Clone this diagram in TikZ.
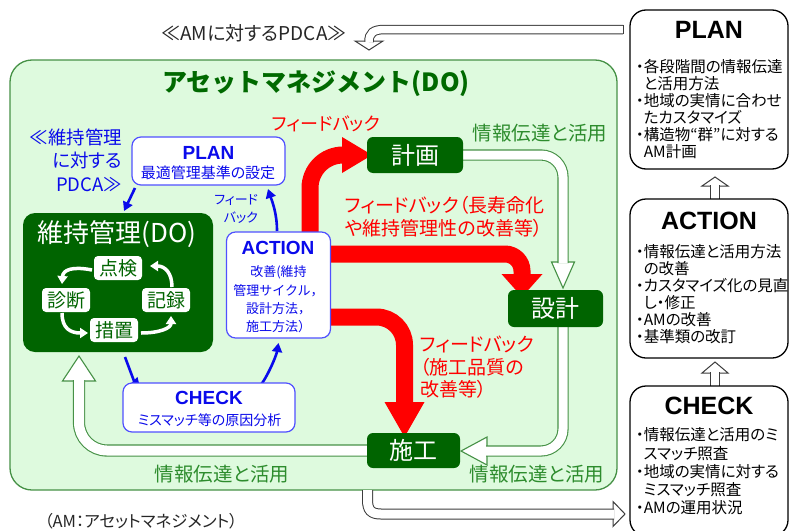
\documentclass[tikz,border=0pt]{standalone}
\usepackage{fontspec}
\setmainfont{Noto Sans CJK JP}[RawFeature=+palt]
\newfontfamily\jpm{Noto Sans CJK JP}
\newfontfamily\arl{Liberation Sans}
\usetikzlibrary{arrows.meta,calc}
\definecolor{dkg}{RGB}{0,100,0}
\definecolor{bgg}{RGB}{222,250,222}
\definecolor{edg}{RGB}{70,145,70}
\definecolor{lblg}{RGB}{45,140,45}
\definecolor{ttlg}{RGB}{0,105,0}
\definecolor{bl}{RGB}{10,10,235}
\definecolor{bbord}{RGB}{80,80,255}
\definecolor{rd}{RGB}{255,0,0}
\definecolor{gr}{RGB}{60,60,60}
\newcommand\fsz[1]{\fontsize{#1}{#1}\selectfont}
\pgfdeclarelayer{back}\pgfdeclarelayer{bg}
\pgfsetlayers{back,bg,main}
\tikzset{
  every node/.style={inner sep=0pt,outer sep=0pt},
  dkbox/.style={fill=dkg,rounded corners=6pt,text=white,font=\fsz{24}},
  wbox/.style={fill=white,rounded corners=4pt,text=dkg,font=\fsz{19},minimum width=48pt,minimum height=24pt},
  bbox/.style={draw=bbord,line width=1.2pt,fill=white,rounded corners=9pt},
  rbox/.style={draw=black,line width=1.3pt,fill=white,rounded corners=16pt},
  redarr/.style={draw=rd,line width=17pt},
  bluarr/.style={draw=bl,line width=2.6pt,-{Triangle[length=9pt,width=10pt]}},
  warr/.style={draw=white,line width=3.5pt,-{Triangle[length=8pt,width=10pt]}},
  hol/.style={double=white,double distance=9pt,line width=1.1pt,draw=edg},
  holhead/.style={fill=white,draw=edg,line width=1.1pt,line join=miter},
  holk/.style={double=white,double distance=7.5pt,line width=1pt,draw=gr},
  holkhead/.style={fill=white,draw=gr,line width=1pt,line join=miter},
  rtitle/.style={font=\arl\fsz{25}\bfseries},
  btitle/.style={text=bl,font=\arl\fsz{19}\bfseries},
  glabel/.style={text=lblg,font=\fsz{19.5}}
}
\begin{document}
\begin{tikzpicture}[x=1pt,y=-1pt]
\useasboundingbox (0,0) rectangle (789,530);

% ---------- main nodes ----------
\node[dkbox,minimum width=96pt,minimum height=36pt] (keikaku) at (415,155) {計画};
\node[dkbox,minimum width=95pt,minimum height=37pt] (sekkei) at (555.5,308.5) {設計};
\node[dkbox,minimum width=93pt,minimum height=35pt] (sekou) at (413.5,450.5) {施工};

\node[fill=dkg,rounded corners=12pt,minimum width=190pt,minimum height=139pt] (iji) at (118,282.5) {};
\node[text=white,font=\fsz{26}] (ijit) at (117,234) {維持管理(DO)};
\node[wbox] (tenken) at (118,268) {点検};
\node[wbox] (shindan) at (66,300) {診断};
\node[wbox] (kiroku) at (166,300) {記録};
\node[wbox] (sochi) at (114,330) {措置};

\node[bbox,minimum width=153pt,minimum height=48pt] (bplan) at (208.5,161) {};
\node[btitle] (bplant) at (208.5,153) {PLAN};
\node[text=bl,font=\fsz{15}] (bplans) at (208,173) {最適管理基準の設定};

\node[bbox,minimum width=104pt,minimum height=106pt] (bact) at (278.5,285) {};
\node[btitle] (bactt) at (278,248) {ACTION};
\node[text=bl,font=\jpm\fontsize{13}{18.3}\selectfont,align=center] (bacts) at (278.5,299.5)
  {改善(維持\\管理サイクル，\\設計方法，\\施工方法）};

\node[bbox,minimum width=172pt,minimum height=49pt] (bchk) at (209,407.5) {};
\node[btitle] (bchkt) at (209,398) {CHECK};
\node[text=bl,font=\fsz{14}] (bchks) at (209.5,420) {ミスマッチ等の原因分析};

\node[text=bl,font=\fontsize{18.5}{23.5}\selectfont,align=right,anchor=east] (ijipdca) at (122,160)
  {≪維持管理\\に対する\\PDCA≫};
\node[text=bl,font=\fontsize{13}{18}\selectfont,align=right,anchor=east] (fbsmall) at (258,209)
  {フィード\\バック};

\node[text=ttlg,font=\jpm\fsz{25}\bfseries] (title) at (316,84) {アセットマネジメント(DO)};
\node[font=\fsz{19},text=black!85] (ampdca) at (254,33) {≪AMに対するPDCA≫};
\node[font=\fsz{16.5},text=black!85] (note) at (141,521) {（AM：アセットマネジメント）};

\node[text=rd,font=\fsz{18}] (fb1) at (326,124) {フィードバック};
\node[text=rd,font=\fontsize{19}{23}\selectfont,align=left,anchor=west] (fb2) at (345,216.5)
  {フィードバック（長寿命化\\や維持管理性の改善等）};
\node[text=rd,font=\fontsize{19}{22.5}\selectfont,align=left,anchor=west] (fb3) at (420,367.5)
  {フィードバック\\（施工品質の\\改善等）};

\node[glabel] (g1) at (540,133) {情報伝達と活用};
\node[glabel] (g2) at (222,474) {情報伝達と活用};
\node[glabel] (g3) at (537,474) {情報伝達と活用};

% ---------- right column ----------
\node[rbox,minimum width=158pt,minimum height=159pt] (rplan) at (709,89.5) {};
\node[rtitle] (rplant) at (709,30) {PLAN};
\node[font=\fontsize{15.5}{17}\selectfont,align=left,anchor=west] (rplanb) at (636,109.5)
  {・各段階間の情報伝達\\\hphantom{・}と活用方法\\・地域の実情に合わせ\\\hphantom{・}たカスタマイズ\\・構造物“群”に対する\\\hphantom{・}AM計画};

\node[rbox,minimum width=158pt,minimum height=159pt] (raction) at (709,278.5) {};
\node[rtitle] (ractiont) at (709,221) {ACTION};
\node[font=\fontsize{15.5}{17}\selectfont,align=left,anchor=west] (ractionb) at (636,294.5)
  {・情報伝達と活用方法\\\hphantom{・}の改善\\・カスタマイズ化の見直\\\hphantom{・}し・修正\\・AMの改善\\・基準類の改訂};

\node[rbox,minimum width=158pt,minimum height=150pt] (rcheck) at (709,461) {};
\node[rtitle] (rcheckt) at (709,406) {CHECK};
\node[font=\fontsize{15.5}{18.25}\selectfont,align=left,anchor=west] (rcheckb) at (636,471.5)
  {・情報伝達と活用のミ\\\hphantom{・}スマッチ照査\\・地域の実情に対する\\\hphantom{・}ミスマッチ照査\\・AMの運用状況};

% ---------- background box ----------
\begin{pgfonlayer}{back}
\node[fill=bgg,draw=edg,line width=1.3pt,rounded corners=22pt,minimum width=607pt,minimum height=430pt] (am) at (313.5,275) {};
\end{pgfonlayer}

% ---------- connectors ----------
\begin{pgfonlayer}{bg}
% hollow green arrows
\filldraw[holhead] (563,288) -- (551.5,262) -- (574.5,262) -- cycle;
\draw[hol,rounded corners=22pt] (keikaku.east) -| (563,263);
\filldraw[holhead] (461,451) -- (487,437) -- (487,465) -- cycle;
\draw[hol,rounded corners=22pt] ([xshift=7.5pt]sekkei.south) |- (486,451);
\filldraw[holhead] (79,356) -- (62.5,381) -- (95.5,381) -- cycle;
\draw[hol,double distance=10pt,rounded corners=28pt] (sekou.west) -| (79,380);

% red feedback arrows
\draw[redarr,rounded corners=33pt,-{Triangle[width=36pt,length=30pt,line width=0pt]}]
  (bact.north -| 310,0) |- ([xshift=5pt]keikaku.west);
\draw[redarr,rounded corners=17pt,-{Triangle[width=41pt,length=23pt,line width=0pt]}]
  ([yshift=31pt]bact.east) -| ([xshift=-33.5pt,yshift=-7pt]sekkei.north);
\draw[redarr,rounded corners=28pt,-{Triangle[width=40pt,length=35pt,line width=0pt]}]
  ([yshift=-32pt]bact.east) -| ([xshift=-9pt,yshift=-4pt]sekou.north);

% blue arrows
\draw[bluarr] ([xshift=3pt,yshift=-3pt]bplan.south west) -- ([xshift=6pt,yshift=2pt]iji.north);
\draw[bluarr] ([xshift=-1.5pt,yshift=1pt]bact.north) .. controls +(0,-18) and +(4,12) .. ([xshift=59.5pt,yshift=-4pt]bplan.south);
\draw[bluarr] ([xshift=7pt,yshift=-5pt]iji.south) .. controls +(3,8) and +(-6,-6) .. ([xshift=-69pt,yshift=-4pt]bchk.north);
\draw[bluarr] ([xshift=51pt,yshift=-3pt]bchk.north) .. controls +(8,-10) and +(-2,12) .. ([yshift=-5pt]bact.south);

% black hollow arrows
\coordinate (tstart) at (623,29.5);
\filldraw[holkhead] (369,50) -- (355,41) -- (383,41) -- cycle;
\draw[holk] (tstart) -- (385,29.5) .. controls (373,29.5) and (369,33) .. (369,42);
\draw[gr,line width=1pt] (623,24.75) -- (623,34.25);

\filldraw[holkhead] (625,514) -- (613,501.5) -- (613,526.5) -- cycle;
\draw[holk,double distance=9pt] (am.south -| 367.5,0) -- (367.5,500) .. controls (367.5,510) and (371,514) .. (381,514) -- (614,514);

\filldraw[holkhead] (715,177) -- (702,186) -- (728,186) -- cycle;
\draw[holk,double distance=8pt] ([xshift=6pt]raction.north) -- (715,185);
\filldraw[holkhead] (715,362) -- (702,373) -- (728,373) -- cycle;
\draw[holk,double distance=8pt] ([xshift=6pt]rcheck.north) -- (715,372);
\end{pgfonlayer}

% white cycle arrows inside the maintenance box
\draw[warr] ([xshift=-2pt,yshift=-2pt]tenken.west) .. controls (72,266) and (63,270) .. (62,284);
\draw[warr] (172,287) .. controls (172,273) and (165,266) .. (150,266);
\draw[warr] (62,313) .. controls (62,328) and (70,333) .. (88,333);
\draw[warr] (141,333) .. controls (160,333) and (171,328) .. (171,316);
\end{tikzpicture}
\end{document}
